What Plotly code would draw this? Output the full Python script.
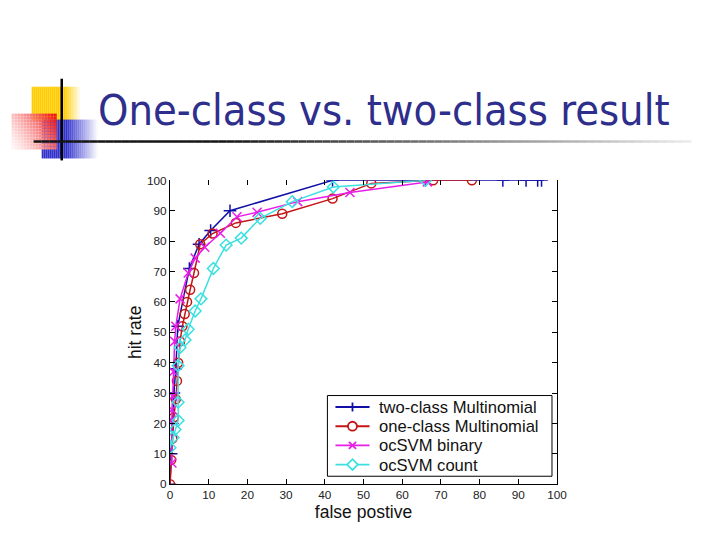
import plotly.graph_objects as go

W, H = 704, 524
# empirical mapping from the target picture's pixels to figure pixels
SX, AX = 0.979, 11.4
SY, AY = 0.977, 14.0

# ---- data ----
two_x = [0, 0.3, 0.6, 1.0, 1.5, 2.0, 5.0, 7.5, 10.5, 15.5, 42, 66, 86, 92, 95, 96]
two_y = [0, 10, 20, 30, 38, 52, 71, 79, 83.5, 90, 100, 100, 100, 100, 100, 100]

one_x = [0, 0.3, 0.6, 1.0, 1.5, 1.8, 2.1, 2.6, 3.2, 3.8, 4.4, 5.2, 6.2, 7.8, 11, 17, 29, 42, 52, 68, 78]
one_y = [0, 8, 15, 22, 28, 34, 40, 47, 52, 56, 60, 64, 69.5, 79, 82.5, 86, 89, 94, 99, 100, 100]

bin_x = [0.5, 0.4, 0.5, 0.7, 0.9, 1.2, 1.5, 2.6, 4.7, 6.5, 9, 13, 17.3, 22.5, 33, 46.5, 66.5]
bin_y = [7, 21, 24.5, 29, 37, 47, 52, 61, 69.5, 74.4, 78, 82.6, 88, 89.5, 93, 96, 99.5]

cnt_x = [0.0, 0.8, 1.3, 2.1, 2.1, 2.1, 2.6, 3.9, 4.7, 6.5, 8, 11.2, 14.5, 18.4, 23.3, 31.6, 42.2, 66]
cnt_y = [12, 15.4, 18, 21, 27, 39, 45, 47.5, 51, 57, 61, 71, 78.7, 81, 87.5, 93, 97.8, 100]

series_names = ["two-class Multinomial", "one-class Multinomial", "ocSVM binary", "ocSVM count"]
ticks = [0, 10, 20, 30, 40, 50, 60, 70, 80, 90, 100]

colors = ["#1010A8", "#C41414", "#E81EE8", "#3CE0E0"]
symbols = ["cross-thin-open", "circle-open", "x-thin-open", "diamond-open"]

fig = go.Figure()
for xs, ys, name, c, s in zip([two_x, one_x, bin_x, cnt_x], [two_y, one_y, bin_y, cnt_y],
                              series_names, colors, symbols):
    fig.add_trace(go.Scatter(
        x=xs, y=ys, name=name, mode="lines+markers",
        line=dict(color=c, width=1.5),
        marker=dict(symbol=s, size=9, color=c, line=dict(color=c, width=1.5)),
        showlegend=False,
    ))
# invisible trace to carry the top tick axis
fig.add_trace(go.Scatter(x=[0, 100], y=[0, 0], xaxis="x2", mode="markers",
                         marker=dict(opacity=0), showlegend=False, hoverinfo="skip"))

def px(x):
    return ((x - AX) / SX) / W

def py(y):
    return 1 - ((y - AY) / SY) / H

shapes = []
annotations = []

def rect(x0, y0, x1, y1, color, line=None):
    shapes.append(dict(type="rect", xref="paper", yref="paper",
                       x0=px(x0), x1=px(x1), y0=py(y1), y1=py(y0),
                       fillcolor=color, line=line or dict(width=0), layer="above"))

def seg_line(x0, y0, x1, y1, color, width):
    shapes.append(dict(type="line", xref="paper", yref="paper", x0=px(x0), x1=px(x1),
                       y0=py(y0), y1=py(y1), line=dict(color=color, width=width),
                       layer="above"))

def mix(c1, c2, t):
    t = max(0.0, min(1.0, t))
    return "rgb(%d,%d,%d)" % tuple(round(a + (b - a) * t) for a, b in zip(c1, c2))

WHITE = (255, 255, 255)
# yellow square (fades to the right)
YEL = (255, 204, 0)
step = 2
x = 32
while x < 80:
    t = 0 if x < 64 else (x - 64) / 16
    rect(x, 86, x + step, 120, mix(YEL, WHITE, t))
    x += step
# blue square (fades to the right)
BLU = (51, 51, 204)
x = 42
while x < 97:
    t = 0 if x < 66 else (x - 66) / 31
    rect(x, 119, x + step, 158, mix(BLU, WHITE, t))
    x += step
# red square, diagonal gradient
RED = (240, 24, 24)
PALE = (255, 244, 244)
cs = 3
yy = 113
while yy < 147:
    xx = 12
    while xx < 55:
        u = (xx - 12) / 43
        v = (147 - yy) / 34
        t = 0.7 * u + 0.35 * v
        rect(xx, yy, xx + cs, yy + cs, mix(PALE, RED, t ** 1.3))
        xx += cs
    yy += cs
# vertical black line
seg_line(62, 78, 62, 160, "black", 2.5)
# horizontal fading line
seg = 8
x = 34
while x < 690:
    t = 0 if x < 220 else (x - 220) / 470
    seg_line(x, 141, x + seg, 141, mix((20, 20, 20), (238, 238, 238), t), 2.5)
    x += seg

# ---- legend box (drawn in page pixels) ----
rect(327, 396, 551, 477, "white", dict(color="black", width=1))
row_y = [407.5, 426.8, 446.0, 465.3]
for name, c, s, yc in zip(series_names, colors, symbols, row_y):
    seg_line(335, yc, 369, yc, c, 1.8)
    mx, r = 352, 4.5
    if s.startswith("cross"):
        seg_line(mx - r, yc, mx + r, yc, c, 1.8)
        seg_line(mx, yc - r, mx, yc + r, c, 1.8)
    elif s.startswith("circle"):
        shapes.append(dict(type="circle", xref="paper", yref="paper",
                           x0=px(mx - r), x1=px(mx + r), y0=py(yc + r), y1=py(yc - r),
                           line=dict(color=c, width=1.8), fillcolor="white", layer="above"))
    elif s.startswith("x"):
        seg_line(mx - r * 0.8, yc - r * 0.8, mx + r * 0.8, yc + r * 0.8, c, 1.8)
        seg_line(mx - r * 0.8, yc + r * 0.8, mx + r * 0.8, yc - r * 0.8, c, 1.8)
    else:
        d = r * 1.2
        path = "M %f %f L %f %f L %f %f L %f %f Z" % (
            px(mx - d), py(yc), px(mx), py(yc - d), px(mx + d), py(yc), px(mx), py(yc + d))
        shapes.append(dict(type="path", xref="paper", yref="paper", path=path,
                           line=dict(color=c, width=1.8), fillcolor="white", layer="above"))
    annotations.append(dict(text=name, xref="paper", yref="paper", x=px(376), y=py(yc + 0.5),
                            xanchor="left", yanchor="middle", showarrow=False,
                            font=dict(family="Liberation Sans, Arial", size=16.6,
                                      color="#111111")))

annotations.append(dict(text="One-class vs. two-class result", xref="paper", yref="paper",
                        x=px(96), y=py(109), xanchor="left", yanchor="middle",
                        showarrow=False,
                        font=dict(family="DejaVu Sans Condensed, DejaVu Sans", size=43,
                                  color="#2E2E8C")))

axis_font = dict(family="Liberation Sans, Arial", size=11.8, color="#222222")
title_font = dict(family="Liberation Sans, Arial", size=17.5, color="#111111")

fig.update_layout(
    width=W, height=H,
    margin=dict(l=0, r=0, t=0, b=0),
    paper_bgcolor="white", plot_bgcolor="white",
    shapes=shapes,
    annotations=annotations,
    showlegend=False,
    xaxis=dict(domain=[px(170), px(556)], range=[0, 100], tickvals=ticks,
               ticks="inside", ticklen=5, tickcolor="black", showline=True,
               linecolor="black", linewidth=1, showgrid=False, zeroline=False,
               tickfont=axis_font,
               title=dict(text="false postive", standoff=4, font=title_font)),
    xaxis2=dict(domain=[px(170), px(556)], range=[0, 100], tickvals=ticks,
                overlaying="x", side="top", anchor="y", ticks="inside", ticklen=5,
                tickcolor="black", showline=False, showgrid=False, zeroline=False,
                showticklabels=False),
    yaxis=dict(domain=[py(485), py(180)], range=[0, 100], tickvals=ticks,
               ticks="inside", ticklen=5, tickcolor="black", showline=True,
               linecolor="black", linewidth=1, mirror="ticks", showgrid=False,
               zeroline=False, tickfont=axis_font,
               title=dict(text="hit rate", standoff=0, font=title_font)),
)

fig.write_html("out.html")
